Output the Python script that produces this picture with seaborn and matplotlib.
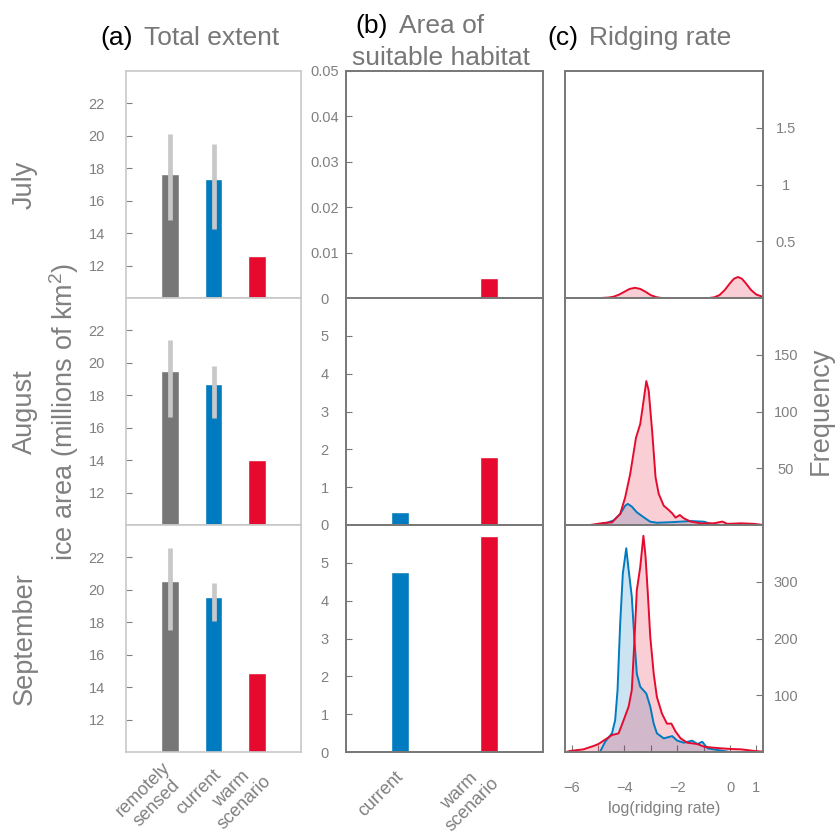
import numpy as np
import matplotlib.pyplot as plt
import matplotlib.transforms as mtransforms
import seaborn as sns

sns.set_style("white")
plt.rcParams['font.family'] = ['Liberation Sans', 'DejaVu Sans']
plt.rcParams['mathtext.fontset'] = 'custom'
plt.rcParams['mathtext.rm'] = 'Liberation Sans'
plt.rcParams['mathtext.default'] = 'rm'

GREY = '#777777'
BLUE = '#007bbf'
RED = '#e60b2e'
TXT = '#808080'
ERR = '#c8c8c8'

months = ["July", "August", "September"]

# (a) total extent
extent_labels = ["remotely\nsensed", "current", "warm\nscenario"]
extent_jul = [17.66, 17.37, 12.56]
extent_aug = [19.5, 18.69, 14.02]
extent_sep = [20.54, 19.55, 14.86]
err_lo_jul = [14.84, 14.28]
err_hi_jul = [20.09, 19.47]
err_lo_aug = [16.67, 16.57]
err_hi_aug = [21.43, 19.8]
err_lo_sep = [17.51, 18.06]
err_hi_sep = [22.57, 20.41]

# (b) area of suitable habitat
habitat_labels = ["current", "warm\nscenario"]
habitat_jul = [0.0, 0.0045]
habitat_aug = [0.34, 1.79]
habitat_sep = [4.75, 5.71]

# (c) ridging rate frequency curves
jul_warm_x = [-4.9, -4.6, -4.4, -4.2, -4.0, -3.8, -3.6, -3.4, -3.2, -3.0, -2.8, -2.6,
              -0.8, -0.6, -0.4, -0.2, 0.0, 0.15, 0.3, 0.45, 0.6, 0.8, 1.0, 1.25]
jul_warm_y = [0.0, 0.004, 0.012, 0.03, 0.055, 0.08, 0.09, 0.08, 0.055, 0.025, 0.008, 0.0,
              0.0, 0.006, 0.025, 0.07, 0.13, 0.17, 0.185, 0.17, 0.13, 0.07, 0.03, 0.01]

aug_warm_x = [-5.3, -4.79, -4.47, -4.16, -3.97, -3.78, -3.56, -3.40, -3.27, -3.17, -3.08,
              -2.95, -2.82, -2.70, -2.51, -2.32, -2.19, -2.06, -1.90, -1.75, -1.49, -1.11,
              -0.61, -0.29, -0.10, 0.41, 0.91, 1.27]
aug_warm_y = [0, 1.8, 2.3, 9.7, 24.4, 45, 77, 89, 110, 126.8, 118.5,
              83, 42, 27.4, 17, 13.2, 10.3, 6.5, 8.8, 5.9, 3, 1.5,
              1.5, 3, 1, 1.5, 1, 0]
aug_cur_x = [-4.79, -4.41, -4.16, -3.97, -3.87, -3.72, -3.53, -3.27, -3.02, -2.77, -2.12,
             -1.49, -0.98, -0.72, -0.4]
aug_cur_y = [1, 4, 9.7, 17, 18.6, 16.2, 11.2, 6.8, 2.9, 2, 2.6,
             3.5, 2.9, 0.9, 0]

sep_warm_x = [-6.2, -6.06, -5.55, -5.17, -4.98, -4.66, -4.47, -4.22, -4.03, -3.84, -3.72,
              -3.62, -3.53, -3.40, -3.28, -3.20, -3.12, -3.02, -2.89, -2.77, -2.58, -2.39,
              -2.22, -2.06, -1.87, -1.62, -1.24, -0.98, -0.72, -0.34, 0.04, 0.42, 0.93, 1.28]
sep_warm_y = [0, 1.8, 4.7, 10.6, 14.1, 24, 29.9, 32.8, 56, 80, 109,
              197, 285, 326, 381, 345, 285, 203, 138, 97, 68, 50,
              50, 36, 24, 16.4, 14.1, 9.4, 8, 6.5, 5.3, 4.7, 1.8, 0.6]
sep_cur_x = [-4.92, -4.73, -4.47, -4.35, -4.26, -4.16, -4.06, -3.93, -3.84, -3.72, -3.62,
             -3.53, -3.40, -3.17, -3.02, -2.89, -2.77, -2.51, -2.19, -2.0, -1.75, -1.43,
             -1.24, -1.05, -0.85, -0.47, -0.09]
sep_cur_y = [0.6, 18, 33, 56, 109, 226, 314, 359, 321, 274, 197,
             138, 115, 103, 80, 50, 33, 24, 28, 20, 16.4, 20,
             14, 18, 6.5, 3.5, 0.6]

extent = [extent_jul, extent_aug, extent_sep]
err_lo = [err_lo_jul, err_lo_aug, err_lo_sep]
err_hi = [err_hi_jul, err_hi_aug, err_hi_sep]
habitat = [habitat_jul, habitat_aug, habitat_sep]
# current drawn first, warm scenario on top
curves = [[(jul_warm_x, jul_warm_y, RED)],
          [(aug_cur_x, aug_cur_y, BLUE), (aug_warm_x, aug_warm_y, RED)],
          [(sep_cur_x, sep_cur_y, BLUE), (sep_warm_x, sep_warm_y, RED)]]
hab_ylims = [(0, 0.05), (0, 6), (0, 6)]
hab_ticks = [[0, 0.01, 0.02, 0.03, 0.04, 0.05], range(6), range(6)]
hab_ticklabels = [["0", "0.01", "0.02", "0.03", "0.04", "0.05"],
                  [str(i) for i in range(6)], [str(i) for i in range(6)]]
freq_ylims = [(0, 2), (0, 200), (0, 400)]
freq_ticks = [[0.5, 1, 1.5], [50, 100, 150], [100, 200, 300]]
freq_ticklabels = [["0.5", "1", "1.5"], ["50", "100", "150"], ["100", "200", "300"]]

W, H = 840, 835
fig = plt.figure(figsize=(W / 100, H / 100), dpi=100)


def pos(x0, x1, y0, y1):
    return [x0 / W, 1 - y1 / H, (x1 - x0) / W, (y1 - y0) / H]


cols = [(126, 301), (346, 543), (565, 763)]
rows = [(71, 298), (298, 525), (525, 752)]


def style_frame(ax, color, lw):
    for s in ax.spines.values():
        s.set_color(color)
        s.set_linewidth(lw)


def shift_labels(ax, dx, dy):
    off = mtransforms.ScaledTranslation(dx / 100, dy / 100, fig.dpi_scale_trans)
    for lbl in ax.get_xticklabels():
        lbl.set_transform(lbl.get_transform() + off)


for r in range(3):
    # (a)
    ax = fig.add_axes(pos(*cols[0], *rows[r]))
    sns.barplot(x=extent_labels, y=extent[r], hue=extent_labels,
                palette=[GREY, BLUE, RED], saturation=1, width=0.41,
                legend=False, ax=ax)
    ax.vlines(range(2), err_lo[r], err_hi[r], color=ERR, lw=3.4)
    ax.set_xlim(-1, 3)
    ax.set_ylim(10, 24)
    ax.set_yticks(range(12, 24, 2))
    ax.set_yticklabels([str(v) for v in range(12, 24, 2)], ha='center')
    ax.tick_params(axis='y', direction='in', length=4, width=0.8, color=TXT,
                   labelcolor=TXT, labelsize=10.5, pad=21, left=True)
    ax.set_xlabel('')
    ax.set_ylabel('')
    style_frame(ax, ERR, 1.2)
    if r == 2:
        ax.set_xticks(range(3))
        ax.set_xticklabels(extent_labels, rotation=45, ha='right', va='center',
                           rotation_mode='anchor', multialignment='center',
                           linespacing=1.15)
        ax.tick_params(axis='x', length=0, labelcolor=TXT, labelsize=13, pad=0)
        shift_labels(ax, 5, -20)
    else:
        ax.set_xticks([])

    # (b)
    ax = fig.add_axes(pos(*cols[1], *rows[r]))
    sns.barplot(x=habitat_labels, y=habitat[r], hue=habitat_labels,
                palette=[BLUE, RED], saturation=1, width=0.2,
                legend=False, ax=ax)
    ax.set_xlim(-0.6, 1.6)
    ax.set_ylim(*hab_ylims[r])
    ax.set_yticks(hab_ticks[r])
    ax.set_yticklabels(hab_ticklabels[r], ha='center')
    ax.tick_params(axis='y', direction='in', length=4, width=0.8, color=GREY,
                   labelcolor=TXT, labelsize=10.5, pad=15.5, left=True)
    ax.set_xlabel('')
    ax.set_ylabel('')
    style_frame(ax, GREY, 1.4)
    if r == 2:
        ax.set_xticks(range(2))
        ax.set_xticklabels(habitat_labels, rotation=45, ha='right', va='center',
                           rotation_mode='anchor', multialignment='center',
                           linespacing=1.15)
        ax.tick_params(axis='x', length=0, labelcolor=TXT, labelsize=13, pad=0)
        shift_labels(ax, 1, -22)
    else:
        ax.set_xticks([])

    # (c)
    ax = fig.add_axes(pos(*cols[2], *rows[r]))
    for xs, ys, c in curves[r]:
        ax.fill_between(xs, ys, color=c, alpha=0.2, lw=0)
        sns.lineplot(x=xs, y=ys, color=c, lw=1.4, ax=ax)
    ax.set_xlim(-6.25, 1.25)
    ax.set_ylim(*freq_ylims[r])
    ax.yaxis.tick_right()
    ax.set_yticks(freq_ticks[r])
    ax.set_yticklabels(freq_ticklabels[r], ha='center')
    ax.tick_params(axis='y', direction='in', length=5, width=0.8, color=GREY,
                   labelcolor=TXT, labelsize=10.5, pad=16.5, right=True, left=False)
    style_frame(ax, GREY, 1.4)
    if r == 2:
        ax.set_xticks(range(-6, 2))
        ax.set_xticklabels(["\u22126", "", "\u22124", "", "\u22122", "", "0", "1"])
        ax.tick_params(axis='x', direction='in', length=5, width=0.8, color=GREY,
                       labelcolor=TXT, labelsize=10.5, pad=21, bottom=True)
    else:
        ax.set_xticks([])

# titles
title_kw = dict(fontsize=19, va='baseline', ha='left')
fig.text(100 / W, 1 - 45 / H, "(a)", color='black', **title_kw)
fig.text(144 / W, 1 - 45 / H, "Total extent", color=GREY, **title_kw)
fig.text(355 / W, 1 - 33 / H, "(b)", color='black', **title_kw)
fig.text(399 / W, 1 - 33 / H, "Area of", color=GREY, **title_kw)
fig.text(352 / W, 1 - 65 / H, "suitable habitat", color=GREY, **title_kw)
fig.text(547 / W, 1 - 45 / H, "(c)", color='black', **title_kw)
fig.text(589 / W, 1 - 45 / H, "Ridging rate", color=GREY, **title_kw)

# row labels and axis titles
for r, m in enumerate(months):
    yc = (rows[r][0] + rows[r][1]) / 2
    fig.text(25 / W, 1 - yc / H, m, rotation=90, ha='center', va='center',
             fontsize=19.5, color=TXT)
fig.text(64 / W, 1 - 411.5 / H, "ice area (millions of km$^2$)", rotation=90,
         ha='center', va='center', fontsize=19.5, color=TXT)
fig.text(821 / W, 1 - 411 / H, "Frequency", rotation=90, ha='center', va='center',
         fontsize=19.5, color=TXT)
fig.text(664 / W, 1 - 808 / H, "log(ridging rate)", ha='center', va='center',
         fontsize=11.5, color=TXT)

fig.savefig("out.png", dpi=100)
